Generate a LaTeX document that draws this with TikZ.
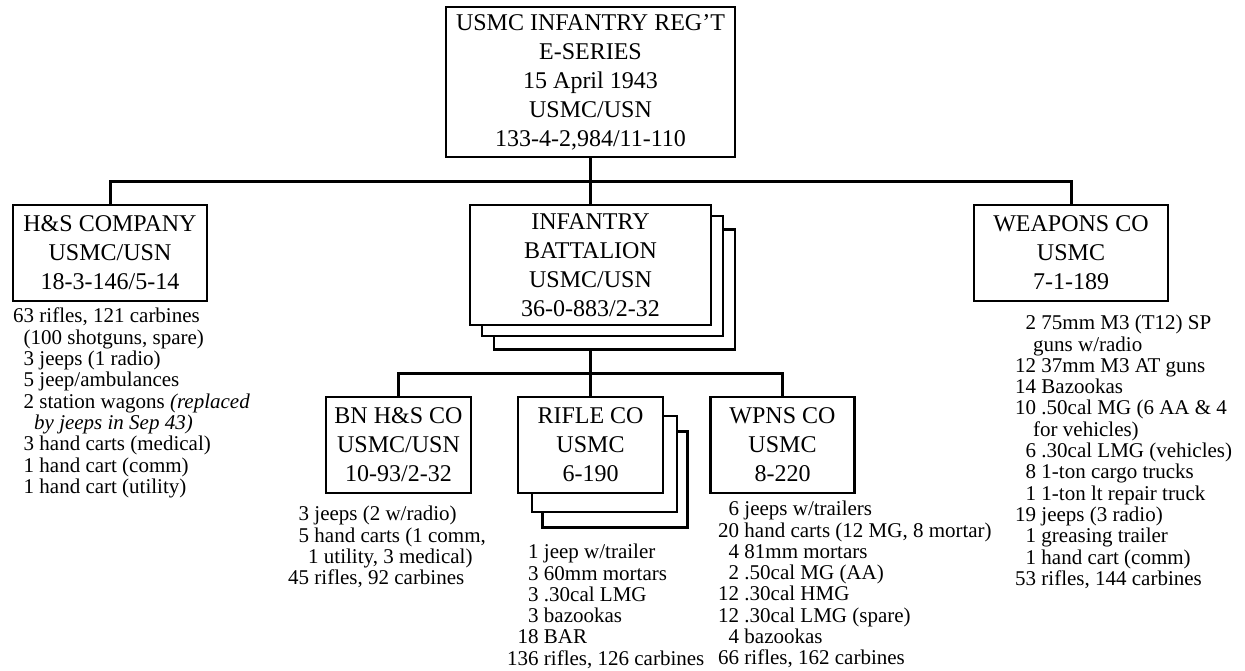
\documentclass[tikz,border=0pt]{standalone}
\usepackage{fontspec}
\setmainfont{Liberation Serif}
\newcommand{\boxfont}{\fontsize{24}{29}\selectfont}
\newcommand{\kitfont}{\fontsize{21}{21.3}\selectfont}
\tikzset{
    unit/.style={draw, line width=2.5pt, fill=white, align=center, inner sep=0pt, font=\boxfont},
    kit/.style={align=left, anchor=north west, inner sep=0pt, font=\kitfont},
    link/.style={line width=3pt, line join=miter}
}
\begin{document}
\begin{tikzpicture}[x=1pt, y=-1pt]
        \useasboundingbox (0,0) rectangle (1245,671);
        \node[unit, minimum width=289pt, minimum height=150pt] (reg) at (590.5,82) {USMC INFANTRY REG'T\\E-SERIES\\15 April 1943\\USMC/USN\\133-4-2,984/11-110};
        \node[unit, minimum width=194pt, minimum height=96pt] (hs) at (110,253) {H\&S COMPANY\\USMC/USN\\18-3-146/5-14};
        \node[unit, minimum width=241pt, minimum height=120pt] (bn3) at (614.5,289.5) {};
        \node[unit, minimum width=241pt, minimum height=120pt] (bn2) at (602.5,276) {};
        \node[unit, minimum width=241pt, minimum height=120pt] (bn) at (590.5,265) {INFANTRY\\BATTALION\\USMC/USN\\36-0-883/2-32};
        \node[unit, minimum width=194pt, minimum height=96pt] (wpn) at (1071,253) {WEAPONS CO\\USMC\\7-1-189};
        \node[unit, minimum width=145pt, minimum height=96pt] (bhs) at (398.5,445) {BN H\&S CO\\USMC/USN\\10-93/2-32};
        \node[unit, minimum width=145pt, minimum height=96pt] (rif3) at (615,479.5) {};
        \node[unit, minimum width=145pt, minimum height=96pt] (rif2) at (604.5,464) {};
        \node[unit, minimum width=145pt, minimum height=96pt] (rif) at (590.5,445) {RIFLE CO\\USMC\\6-190};
        \node[unit, minimum width=144pt, minimum height=96pt] (wco) at (782.5,445) {WPNS CO\\USMC\\8-220};
        \coordinate (bar) at (0,182);
        \coordinate (bar2) at (0,373);
        \draw[link] (reg.south) -- (bn.north);
        \draw[link] (hs.north) -- (hs.north |- bar) -- (wpn.north |- bar) -- (wpn.north);
        \draw[link] (bn.south |- bn3.south) -- (rif.north);
        \draw[link] (bhs.north) -- (bhs.north |- bar2) -- (wco.north |- bar2) -- (wco.north);
        \node[kit] (hslist) at (13,308) {63 rifles, 121 carbines\\
            \phantom{0}(100 shotguns, spare)\\
            \phantom{0}3 jeeps (1 radio)\\
            \phantom{0}5 jeep/ambulances\\
            \phantom{0}2 station wagons \textit{(replaced}\\
            \phantom{00}\textit{by jeeps in Sep 43)}\\
            \phantom{0}3 hand carts (medical)\\
            \phantom{0}1 hand cart (comm)\\
            \phantom{0}1 hand cart (utility)};
        \node[kit] (bhslist) at (288,506) {\phantom{0}3 jeeps (2 w/radio)\\
            \phantom{0}5 hand carts (1 comm,\\
            \hspace*{20pt}1 utility, 3 medical)\\
            45 rifles, 92 carbines};
        \node[kit] (riflist) at (507,544) {\phantom{00}1 jeep w/trailer\\
            \phantom{00}3 60mm mortars\\
            \phantom{00}3 .30cal LMG\\
            \phantom{00}3 bazookas\\
            \phantom{0}18 BAR\\
            136 rifles, 126 carbines};
        \node[kit] (wcolist) at (718,501) {\phantom{0}6 jeeps w/trailers\\
            20 hand carts (12 MG, 8 mortar)\\
            \phantom{0}4 81mm mortars\\
            \phantom{0}2 .50cal MG (AA)\\
            12 .30cal HMG\\
            12 .30cal LMG (spare)\\
            \phantom{0}4 bazookas\\
            66 rifles, 162 carbines};
        \node[kit] (wpnlist) at (1015,315) {\phantom{0}2 75mm M3 (T12) SP\\
            \hspace*{18pt}guns w/radio\\
            12 37mm M3 AT guns\\
            14 Bazookas\\
            10 .50cal MG (6 AA \& 4\\
            \hspace*{18pt}for vehicles)\\
            \phantom{0}6 .30cal LMG (vehicles)\\
            \phantom{0}8 1-ton cargo trucks\\
            \phantom{0}1 1-ton lt repair truck\\
            19 jeeps (3 radio)\\
            \phantom{0}1 greasing trailer\\
            \phantom{0}1 hand cart (comm)\\
            53 rifles, 144 carbines};
    \end{tikzpicture}
\end{document}
